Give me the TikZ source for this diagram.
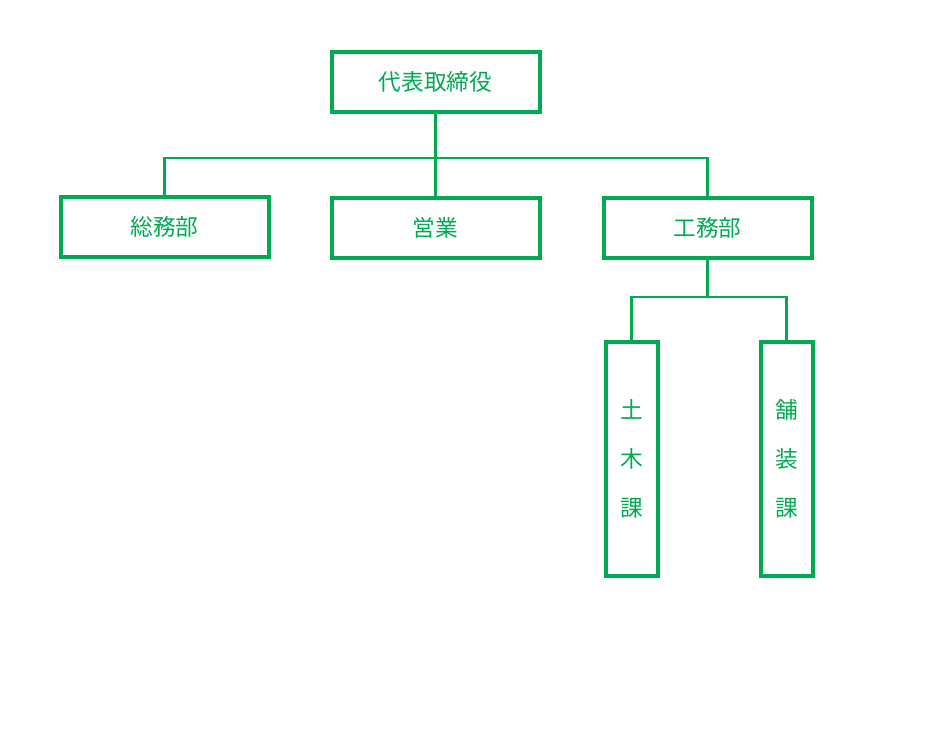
\documentclass[tikz,border=0pt]{standalone}
\usepackage{fontspec}
\setmainfont{Noto Sans CJK JP}
\definecolor{orgGreen}{RGB}{0,170,80}
\begin{document}
\begin{tikzpicture}[x=0.75pt, y=-0.75pt, every node/.style={draw=orgGreen, line width=3pt, text=orgGreen, font=\fontsize{17}{20}\selectfont, inner sep=0pt}, wide/.style={minimum width=156pt, minimum height=45pt}, tall/.style={minimum width=39pt, minimum height=175pt, align=center, font=\fontsize{17}{37}\selectfont}, link/.style={draw=orgGreen, line width=2pt}]
\useasboundingbox (0,0) rectangle (941,753);
\node[wide] (ceo) at (435.5,81.5) {代表取締役};
\node[wide] (soumu) at (164.5,226.5) {総務部};
\node[wide] (eigyo) at (435.5,228) {営業};
\node[wide] (koumu) at (707.5,228) {工務部};
\node[tall] (doboku) at (631.5,459) {土\\木\\課};
\node[tall] (hosou) at (786.5,459) {舗\\装\\課};
\coordinate (bus) at (435.5,158);
\coordinate (sub) at (707.5,297);
\draw[link] (ceo) -- (eigyo);
\draw[link] (soumu) |- (bus) -| (koumu);
\draw[link] (koumu) -- (sub);
\draw[link] (doboku) |- (sub) -| (hosou);
\end{tikzpicture}
\end{document}
